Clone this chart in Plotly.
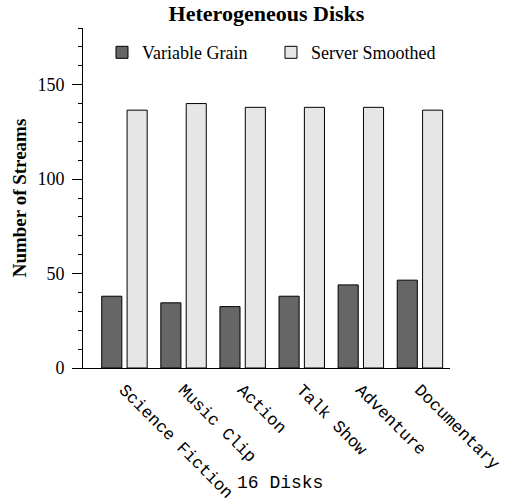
import plotly.graph_objects as go

categories = ["Science Fiction", "Music Clip", "Action", "Talk Show", "Adventure", "Documentary"]
variable_grain = [38, 34.5, 32.5, 38, 44, 46.5]
server_smoothed = [136.5, 140, 138, 138, 138, 136.5]
y_tick_vals = [0, 50, 100, 150]

SERIF = "Liberation Serif, Times New Roman, serif"
MONO = "Liberation Mono, Courier New, monospace"

fig = go.Figure()
fig.add_trace(go.Bar(
    x=categories, y=variable_grain, name="Variable Grain", legend="legend",
    marker=dict(color="#666666", line=dict(color="black", width=1)),
    width=0.34, offset=-0.383,
))
fig.add_trace(go.Bar(
    x=categories, y=server_smoothed, name="Server Smoothed", legend="legend2",
    marker=dict(color="#e6e6e6", line=dict(color="black", width=1)),
    width=0.34, offset=0.046,
))

leg_common = dict(orientation="h", xanchor="left", yanchor="top",
                  bgcolor="rgba(0,0,0,0)",
                  font=dict(family=SERIF, size=18, color="black"))

fig.update_layout(
    width=505, height=498,
    margin=dict(l=83, r=55, t=28, b=130, autoexpand=False),
    paper_bgcolor="white", plot_bgcolor="white",
    showlegend=True,
    title=dict(text="<b>Heterogeneous Disks</b>", x=0.5, xref="paper",
               y=1 - 13 / 498, yref="container", yanchor="middle",
               font=dict(family=SERIF, size=22, color="black")),
    legend=dict(x=0.0245 + 10 / 367, y=0.982, **leg_common),
    legend2=dict(x=0.485 + 10 / 367, y=0.982, **leg_common),
    xaxis=dict(type="category", range=[-0.7, 5.51], showline=True, linecolor="black",
               linewidth=1, ticks="", tickangle=45, showgrid=False, zeroline=False,
               automargin=False,
               tickfont=dict(family=MONO, size=17, color="black"),
               ticklabelstandoff=4),
    yaxis=dict(range=[0, 180], showline=True, linecolor="black", linewidth=1,
               ticks="outside", ticklen=10, tickcolor="black", tickwidth=1,
               tickvals=y_tick_vals, showgrid=False, zeroline=False,
               automargin=False, ticklabelstandoff=4,
               tickfont=dict(family=SERIF, size=18, color="black"),
               minor=dict(dtick=10, tick0=0, ticks="outside", ticklen=4,
                          tickcolor="black", showgrid=False),
               title=dict(text="<b>Number of Streams</b>", standoff=5,
                          font=dict(family=SERIF, size=19, color="black"))),
    annotations=[dict(text="16 Disks", xref="paper", yref="paper",
                      x=(280 - 83) / 367, y=(368 - 483) / 340,
                      showarrow=False, xanchor="center", yanchor="middle",
                      font=dict(family=MONO, size=18, color="black"))],
)

fig.write_html("out.html", config={"displayModeBar": False},
               post_script="document.body.style.margin='0';document.body.style.overflow='hidden';")
